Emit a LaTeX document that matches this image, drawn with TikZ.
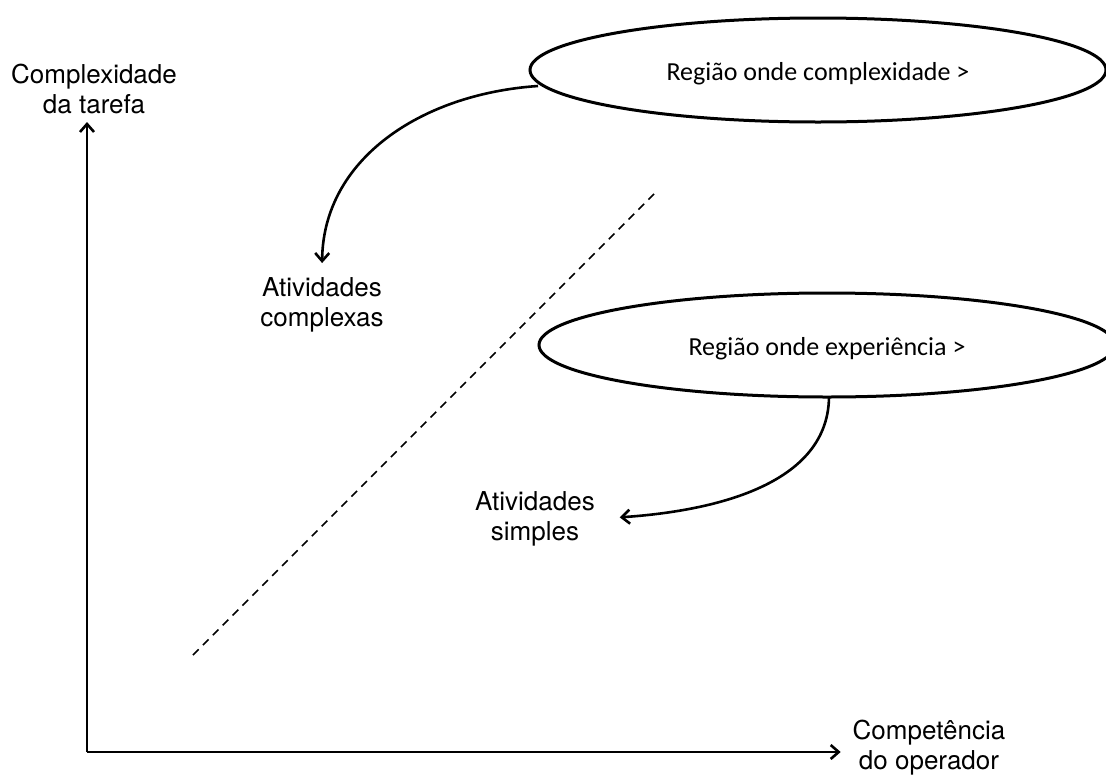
\documentclass[tikz,border=0pt]{standalone}
\usepackage{fontspec}
\setmainfont{TeX Gyre Heros}
\newfontfamily\calibrifont{Carlito}
\usetikzlibrary{arrows.meta}

\begin{document}
\begin{tikzpicture}[x=1pt,y=-1pt,
  every node/.style={inner sep=0pt, outer sep=0pt},
  lbl/.style={align=center, font=\fontsize{26}{30}\selectfont},
  regiontext/.style={font=\calibrifont\fontsize{26}{30}\selectfont,
    text height=20pt, text depth=0pt},
  regionline/.style={line width=3pt},
  tipped/.style={line width=2.6pt, -{Straight Barb[length=8pt,width=14pt]}},
  split/.style={line width=1.5pt, dash pattern=on 8pt off 6pt}]
\useasboundingbox (0,0) rectangle (1106,774);

% axis labels
\node[lbl] (ylab) at (94,92) {\strut Complexidade\\\strut da tarefa};
\node[lbl] (xlab) at (929,748) {\strut Competência\\\strut do operador};

% activity labels
\node[lbl] (complex) at (322,305.7) {\strut Atividades\\\strut complexas};
\node[lbl] (simple) at (535,519) {\strut Atividades\\\strut simples};

% regions: text and surrounding ellipse
\node[regiontext] (rc) at (818,70) {Região onde complexidade >};
\node[regiontext] (re) at (827,345) {Região onde experiência >};
\draw[regionline] (rc.center) ellipse [x radius=288pt, y radius=52pt];
\draw[regionline] (re.center) ellipse [x radius=288pt, y radius=52pt];
\coordinate (rcfoot) at ([shift={(-280,16)}]rc.center);
\coordinate (refoot) at ([shift={(2,52)}]re.center);

% axes
\coordinate (o) at (87,752);
\draw[tipped] (o) -- (o |- ylab.south);
\draw[tipped] (o) -- ([xshift=-12pt]xlab.west |- o);

% dividing line
\coordinate (d1) at (193,655);
\coordinate (d2) at (655,193);
\draw[split] (d1) -- (d2);

% region pointers
\draw[tipped, shorten >=12.7pt] (rcfoot) .. controls (420,94) and (323,160) .. (complex.north);
\draw[tipped, shorten >=25pt] (refoot) .. controls (828,490) and (700,512) .. (simple.east);
\end{tikzpicture}
\end{document}
